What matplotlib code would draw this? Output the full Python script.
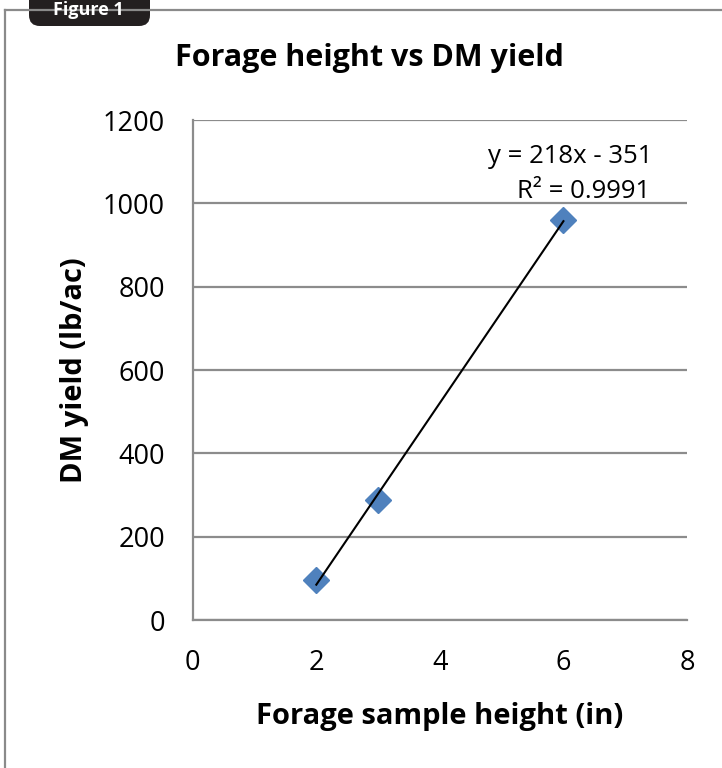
import matplotlib
matplotlib.use('Agg')
import matplotlib.pyplot as plt
from matplotlib.patches import FancyBboxPatch
from matplotlib.lines import Line2D
import numpy as np

plt.rcParams['font.family'] = ['Open Sans', 'DejaVu Sans']

# data
height_in = [2, 3, 6]
dm_yield = [96, 288, 961]
x_ticks = [0, 2, 4, 6, 8]
y_ticks = [0, 200, 400, 600, 800, 1000, 1200]

title = 'Forage height vs DM yield'
x_label = 'Forage sample height (in)'
y_label = 'DM yield (lb/ac)'
fig_tag = 'Figure 1'

grid_col = '#8c8c8c'
marker_col = '#4f81bd'

fig = plt.figure(figsize=(7.22, 7.68), dpi=100)
ax = fig.add_axes([0.267, 0.1927, 0.6845, 0.651])

ax.set_xlim(0, 8)
ax.set_ylim(0, 1200)
ax.set_xticks(x_ticks)
ax.set_yticks(y_ticks)
ax.tick_params(length=0, labelsize=19.5, pad=20)
ax.tick_params(axis='x', pad=21)

ax.grid(axis='y', color=grid_col, lw=1.6)
ax.set_axisbelow(True)
for s in ['top', 'right']:
    ax.spines[s].set_visible(False)
for s in ['left', 'bottom']:
    ax.spines[s].set_color(grid_col)
    ax.spines[s].set_linewidth(1.6)

# linear trendline
slope, icept = np.polyfit(height_in, dm_yield, 1)
xs = np.array([min(height_in), max(height_in)])
ax.plot(xs, slope * xs + icept, color='black', lw=1.5, zorder=3)
ax.plot(height_in, dm_yield, 'D', color=marker_col, ms=13.5, mec=marker_col,
        zorder=2, clip_on=False)

# R^2
pred = slope * np.array(height_in) + icept
resid = np.array(dm_yield) - pred
r2 = 1 - (resid ** 2).sum() / ((np.array(dm_yield) - np.mean(dm_yield)) ** 2).sum()
ax.text(0.93, 0.928, 'y = %dx - %d' % (round(slope), round(-icept)),
        transform=ax.transAxes, ha='right', va='center', fontsize=18.5)
ax.text(0.925, 0.857, 'R\u00b2 = %.4f' % r2,
        transform=ax.transAxes, ha='right', va='center', fontsize=18.5)

fig.text(0.511, 0.925, title, ha='center', va='center', fontsize=22,
         fontweight='bold')
ax.set_xlabel(x_label, fontsize=21, fontweight='bold', labelpad=18)
ax.set_ylabel(y_label, fontsize=21, fontweight='bold', labelpad=10)

# outer frame and tag
fw, fh = 722, 768
fig.add_artist(Line2D([5 / fw, 1], [1 - 10 / fh] * 2, color='#8a8a8a', lw=1.6))
fig.add_artist(Line2D([5 / fw] * 2, [0, 1 - 10 / fh], color='#8a8a8a', lw=1.6))
tag = FancyBboxPatch((29 / fw, 1 - 26 / fh), 121 / fw, 40 / fh,
                     boxstyle='round,pad=0,rounding_size=0.015',
                     transform=fig.transFigure, fc='#231f20', ec='none',
                     mutation_aspect=fw / fh)
fig.add_artist(tag)
fig.text(88 / fw, 1 - 10 / fh, fig_tag, ha='center', va='center', color='white',
         fontsize=13, fontweight='bold')

fig.savefig('out.png', dpi=100)
